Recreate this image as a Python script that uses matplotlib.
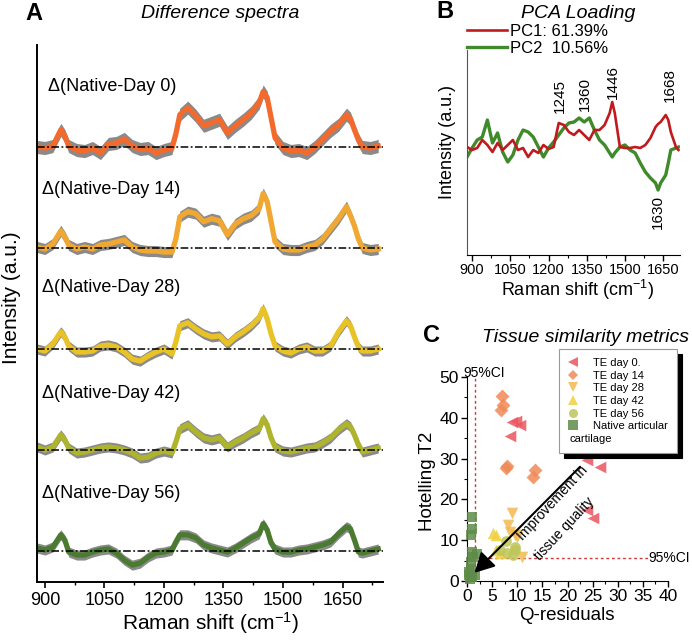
import matplotlib
matplotlib.use('Agg')
import matplotlib.pyplot as plt
from matplotlib.lines import Line2D
from matplotlib.ticker import MultipleLocator

plt.rcParams['font.family'] = ['Liberation Sans', 'DejaVu Sans']
plt.rcParams['mathtext.fontset'] = 'custom'
plt.rcParams['mathtext.rm'] = 'Liberation Sans'
plt.rcParams['mathtext.it'] = 'Liberation Sans:italic'

# ---------------- Panel A: difference spectra ----------------
wavenumber = [880, 900, 920, 940, 950, 960, 980, 1000, 1020, 1040, 1060, 1080, 1100,
              1120, 1140, 1160, 1180, 1200, 1220, 1230, 1240, 1260, 1280, 1300, 1320,
              1340, 1360, 1380, 1400, 1420, 1440, 1450, 1460, 1470, 1480, 1500, 1520,
              1540, 1560, 1580, 1600, 1620, 1640, 1660, 1670, 1680, 1690, 1700, 1720, 1740]
diff_day0 = [0, -0.01, 0.01, 0.17, 0.11, 0.01, -0.03, -0.04, -0.01, -0.06, 0.03, 0.04, 0.08,
             0.01, -0.02, -0.01, -0.06, -0.03, -0.01, 0.13, 0.32, 0.39, 0.31, 0.21, 0.24,
             0.27, 0.14, 0.21, 0.27, 0.34, 0.44, 0.55, 0.49, 0.29, 0.09, -0.01, -0.04,
             -0.03, -0.06, 0, 0.08, 0.16, 0.22, 0.32, 0.28, 0.17, 0.07, 0, -0.01, 0.01]
diff_day14 = [0.01, -0.01, 0.04, 0.17, 0.11, 0.03, -0.01, 0.01, -0.01, 0.03, 0.04, 0.06, 0.08,
              0.01, -0.02, -0.03, -0.03, -0.04, -0.04, 0.09, 0.31, 0.36, 0.34, 0.26, 0.29,
              0.27, 0.13, 0.24, 0.29, 0.32, 0.39, 0.54, 0.46, 0.26, 0.06, -0.01, -0.02,
              -0.02, 0.01, 0.03, 0.09, 0.19, 0.29, 0.41, 0.32, 0.22, 0.09, 0, -0.02, -0.01]
diff_day28 = [0, -0.02, 0.05, 0.17, 0.12, 0.03, -0.03, -0.03, -0.02, 0.03, 0.04, 0.02, -0.03,
              -0.10, -0.12, -0.07, -0.03, 0, -0.05, 0.07, 0.23, 0.26, 0.20, 0.15, 0.12,
              0.13, 0.05, 0.12, 0.17, 0.23, 0.31, 0.40, 0.30, 0.15, 0.03, -0.02, -0.04,
              0, 0.02, -0.02, -0.02, 0.03, 0.17, 0.28, 0.23, 0.12, 0.02, -0.02, -0.02, 0]
diff_day42 = [0.03, 0, 0.03, 0.15, 0.10, 0.02, -0.03, -0.02, 0, 0.02, 0.03, 0.02, 0,
              -0.03, -0.08, -0.07, -0.03, -0.01, -0.03, 0.08, 0.21, 0.25, 0.18, 0.12, 0.10,
              0.12, 0.03, 0.08, 0.12, 0.17, 0.21, 0.31, 0.25, 0.12, 0.03, -0.01, -0.02,
              0, 0.02, 0.03, 0.07, 0.12, 0.20, 0.26, 0.23, 0.15, 0.05, -0.02, 0, 0.02]
diff_day56 = [0.03, 0.01, 0.04, 0.16, 0.11, -0.01, -0.04, -0.04, -0.01, 0.01, 0.02, -0.02, -0.09,
              -0.14, -0.12, -0.06, -0.02, -0.01, 0.01, 0.09, 0.16, 0.16, 0.13, 0.06, 0.03,
              0.01, -0.01, 0.03, 0.08, 0.13, 0.17, 0.27, 0.21, 0.08, 0.02, -0.01, -0.01,
              0.01, 0.02, 0.04, 0.06, 0.09, 0.17, 0.24, 0.22, 0.11, -0.01, -0.02, 0, 0.02]
diff_labels = ['\u0394(Native-Day 0)', '\u0394(Native-Day 14)', '\u0394(Native-Day 28)',
               '\u0394(Native-Day 42)', '\u0394(Native-Day 56)']
diff_noise = [0.065, 0.055, 0.05, 0.05, 0.05]   # half-width of grey raw-spectrum band
diff_offsets = [4, 3, 2, 1, 0]

# ---------------- Panel B: PCA loadings ----------------
pca_wavenumber = [880, 900, 920, 940, 960, 980, 1000, 1020, 1040, 1060, 1080, 1100, 1120,
                  1140, 1160, 1180, 1200, 1220, 1240, 1260, 1280, 1300, 1320, 1340, 1360,
                  1380, 1400, 1420, 1440, 1450, 1460, 1480, 1500, 1520, 1540, 1560, 1580,
                  1600, 1620, 1630, 1640, 1660, 1670, 1680, 1700, 1710]
pc1_loading = [0.01, -0.02, 0, 0.08, 0.03, -0.04, 0.05, -0.02, 0.03, 0.08, -0.02, 0, -0.09,
               -0.02, -0.05, 0.03, -0.01, 0.01, 0.25, 0.23, 0.16, 0.13, 0.18, 0.13, 0.08,
               0.18, 0.18, 0.23, 0.35, 0.46, 0.35, 0.01, 0, 0, 0.01, 0, 0.03,
               0.10, 0.21, 0.24, 0.26, 0.33, 0.28, 0.16, 0.01, -0.02]
pc2_loading = [-0.09, 0, 0.08, 0.11, 0.28, 0.05, 0.15, -0.04, -0.14, -0.07, 0.08, 0.18, 0.16,
               0.11, 0.01, -0.09, 0, 0.06, 0.13, 0.20, 0.25, 0.26, 0.30, 0.26, 0.30,
               0.18, 0.08, 0.03, -0.05, -0.09, -0.05, 0.01, 0.03, -0.02, -0.05, -0.15, -0.24,
               -0.30, -0.35, -0.42, -0.35, -0.27, -0.15, -0.02, 0, 0.01]
pc_labels = ['PC1: 61.39%', 'PC2  10.56%']
peak_labels = ['1245', '1360', '1446', '1668', '1630']
peak_x = [1245, 1343, 1453, 1677, 1630]
peak_y = [0.52, 0.54, 0.66, 0.63, -0.64]

# ---------------- Panel C: tissue similarity ----------------
q_day0 = [8.9, 10.5, 9.7, 8.6, 23.8, 26.5, 23.8, 25.0]
t_day0 = [39.0, 38.2, 39.2, 35.5, 29.7, 28.0, 17.4, 15.4]
q_day14 = [6.9, 7.2, 6.8, 7.9, 7.8, 13.5, 13.2]
t_day14 = [45.3, 43.1, 41.9, 28.2, 27.6, 27.2, 25.4]
q_day28 = [8.9, 8.2, 8.6, 9.6, 11.0, 9.9]
t_day28 = [16.6, 13.7, 12.1, 11.3, 6.0, 10.9]
q_day42 = [5.2, 5.8, 5.8, 6.6]
t_day42 = [11.7, 11.3, 7.6, 6.8]
q_day56 = [7.8, 9.6, 9.5, 7.9, 6.5, 9.2]
t_day56 = [9.9, 8.4, 7.6, 6.8, 7.6, 6.4]
q_native = [0.9, 0.9, 0.7, 0.9, 1.9, 0.7, 0.7, 0.3, 0.9, 1.5, 0.5, 1.2, 0.4]
t_native = [15.6, 12.8, 11.2, 7.0, 6.6, 4.6, 3.0, 1.4, 0.9, 1.5, 0.5, 5.8, 2.2]
group_labels = ['TE day 0.', 'TE day 14', 'TE day 28', 'TE day 42', 'TE day 56',
                'Native articular', 'cartilage']
q_limit = 1.5
t_limit = 5.6

# ---------------- figure ----------------
W, H = 692, 642
fig = plt.figure(figsize=(W / 100, H / 100), dpi=100)


def fx(px):
    return px / W


def fy(py):
    return 1 - py / H


spec_colors = ['#F46A2C', '#F0A832', '#E8C226', '#AEB52C', '#4A7B30']
grey = '#8A8A8A'

# Panel A
axA = fig.add_axes([fx(37), fy(582), fx(383) - fx(37), fy(45) - fy(582)])
for vals, lab, off, col, nz in zip([diff_day0, diff_day14, diff_day28, diff_day42, diff_day56],
                                   diff_labels, diff_offsets, spec_colors, diff_noise):
    shifted = [off + v for v in vals]
    axA.fill_between(wavenumber, [s - nz for s in shifted], [s + nz for s in shifted],
                     color=grey, lw=0, zorder=1)
    axA.plot(wavenumber, shifted, color=col, lw=3.8, zorder=2, solid_joinstyle='round')
    axA.axhline(off, color='black', lw=1.1, ls=(0, (5, 1.6, 1.2, 1.6)), zorder=3)
label_x = [908, 893, 893, 893, 893]
label_dy = [0.60, 0.58, 0.61, 0.56, 0.57]
for lab, off, lx, dy in zip(diff_labels, diff_offsets, label_x, label_dy):
    axA.text(lx, off + dy, lab, fontsize=13, ha='left', va='center')
axA.set_xlim(880, 1752)
axA.set_ylim(-0.307, 5.01)
axA.spines['top'].set_visible(False)
axA.spines['right'].set_visible(False)
axA.spines['left'].set_linewidth(1.4)
axA.spines['bottom'].set_linewidth(1.4)
axA.set_yticks([])
axA.xaxis.set_minor_locator(MultipleLocator(75))
axA.set_xticks([900, 1050, 1200, 1350, 1500, 1650])
axA.tick_params(axis='x', which='major', length=4.5, width=1.2, labelsize=13, pad=3)
axA.tick_params(axis='x', which='minor', length=2.5, width=1.0)
axA.set_xlabel('Raman shift (cm$^{-1}$)', fontsize=15)
axA.set_ylabel('Intensity (a.u.)', fontsize=15)
axA.xaxis.set_label_coords(0.5, (582 - 623) / 537)
axA.xaxis.label.set_va('center')
axA.yaxis.set_label_coords((12 - 37) / 346, (582 - 298) / 537)
axA.yaxis.label.set_va('center')

# Panel B
axB = fig.add_axes([fx(467), fy(255), fx(680) - fx(467), fy(50) - fy(255)])
l1, = axB.plot(pca_wavenumber, pc1_loading, color='#C01A1E', lw=1.9, zorder=3)
l2, = axB.plot(pca_wavenumber, pc2_loading, color='#3F8A2A', lw=2.4, zorder=2)
for lab, px, py in zip(peak_labels, peak_x, peak_y):
    axB.text(px, py, lab, rotation=90, fontsize=11, ha='center', va='center')
axB.set_xlim(880, 1716)
axB.set_ylim(-1.07, 0.98)
axB.spines['top'].set_visible(False)
axB.spines['right'].set_visible(False)
axB.spines['left'].set_color('#555555')
axB.set_yticks([])
axB.set_xticks([900, 1050, 1200, 1350, 1500, 1650])
axB.xaxis.set_minor_locator(MultipleLocator(75))
axB.tick_params(axis='x', which='major', length=4, width=1.0, labelsize=10.5, pad=2)
axB.tick_params(axis='x', which='minor', length=2.5, width=0.8)
axB.set_xlabel('Raman shift (cm$^{-1}$)', fontsize=13)
axB.set_ylabel('Intensity (a.u.)', fontsize=13)
axB.xaxis.set_label_coords((577 - 467) / 213, (255 - 290) / 205)
axB.xaxis.label.set_va('center')
axB.yaxis.set_label_coords((447 - 467) / 213, (255 - 142) / 205)
axB.yaxis.label.set_va('center')
axB.legend([l1, l2], pc_labels, loc='upper left', bbox_to_anchor=(fx(467), fy(24)),
           bbox_transform=fig.transFigure, frameon=False, fontsize=12, handlelength=2.4,
           handletextpad=0.2, labelspacing=0.12, borderpad=0, borderaxespad=0)

# Panel C
axC = fig.add_axes([fx(467), fy(581), fx(668) - fx(467), fy(377) - fy(581)])
ci_col = '#D03A3A'
axC.plot([q_limit, q_limit], [0, 50], color=ci_col, lw=1.0, ls=(0, (2, 2)), zorder=1)
axC.plot([0, 36], [t_limit, t_limit], color=ci_col, lw=1.0, ls=(0, (2, 2)), zorder=1)
axC.text(36.0, t_limit, '95%CI', fontsize=10, ha='left', va='center')
axC.text(3.4, 51.0, '95%CI', fontsize=10, ha='center', va='center')
groups = [(q_day0, t_day0, '<', '#EC5560', 70),
          (q_day14, t_day14, 'D', '#F08A58', 50),
          (q_day28, t_day28, 'v', '#F2BA52', 70),
          (q_day42, t_day42, '^', '#F0D040', 70),
          (q_day56, t_day56, 'o', '#BEC658', 60),
          (q_native, t_native, 's', '#5E8C48', 42)]
handles = []
for qv, tv, mk, col, sz in groups:
    axC.scatter(qv, tv, marker=mk, s=sz, color=col, alpha=0.85, lw=0, zorder=3, clip_on=False)
    handles.append(Line2D([], [], ls='none', marker=mk, color=col, alpha=0.85,
                          markersize=6.5 if mk != 'D' else 5.5, markeredgewidth=0))
handles.append(Line2D([], [], ls='none'))
axC.annotate('', xy=(1.5, 2.0), xytext=(22.5, 28.0),
             arrowprops=dict(arrowstyle='-|>,head_length=0.6,head_width=0.32',
                             color='black', lw=1.5, mutation_scale=20, shrinkA=0, shrinkB=0),
             zorder=4)
axC.text(17.0, 19.0, 'Improvement in', rotation=47, fontsize=10, ha='center', va='center')
axC.text(19.4, 12.7, 'tissue quality', rotation=47, fontsize=10, ha='center', va='center')
axC.set_xlim(0, 40)
axC.set_ylim(0, 50)
axC.spines['top'].set_visible(False)
axC.spines['right'].set_visible(False)
axC.xaxis.set_major_locator(MultipleLocator(5))
axC.xaxis.set_minor_locator(MultipleLocator(2.5))
axC.yaxis.set_major_locator(MultipleLocator(10))
axC.yaxis.set_minor_locator(MultipleLocator(5))
axC.tick_params(which='major', length=4, width=1.0, labelsize=12.5, pad=2)
axC.tick_params(which='minor', length=2.5, width=0.8)
axC.set_xlabel('Q-residuals', fontsize=13.5)
axC.set_ylabel('Hotelling T2', fontsize=13.5)
axC.xaxis.set_label_coords((567 - 467) / 201, (581 - 615) / 204)
axC.xaxis.label.set_va('center')
axC.yaxis.set_label_coords((427 - 467) / 201, (581 - 481) / 204)
axC.yaxis.label.set_va('center')
leg = axC.legend(handles, group_labels, loc='upper left',
                 bbox_to_anchor=(fx(559), fy(349)), bbox_transform=fig.transFigure,
                 fontsize=8, frameon=True, fancybox=False, handlelength=1.0,
                 handletextpad=1.3, labelspacing=0.24, borderpad=0.8, borderaxespad=0,
                 shadow={'ox': 3.5, 'oy': -3.5, 'facecolor': 'black', 'edgecolor': 'black',
                         'alpha': 1})
leg.get_frame().set_edgecolor('#999999')
leg.get_frame().set_linewidth(0.8)
leg.set_zorder(5)
# the wrapped second line of the last label starts under the marker column
leg.get_texts()[-1].set_alpha(0)
fig.canvas.draw()
last_bb = leg.get_texts()[-1].get_window_extent()
inv = fig.transFigure.inverted()
cx, cy = inv.transform(((last_bb.x0 + last_bb.x1) / 2, (last_bb.y0 + last_bb.y1) / 2))
fig.text(fx(570), cy, group_labels[-1], fontsize=8, ha='left', va='center', zorder=10)

# Panel letters and titles
fig.text(fx(34), fy(14), 'A', fontsize=17, fontweight='bold', ha='center', va='center')
fig.text(fx(220), fy(14), 'Difference spectra', fontsize=14, style='italic',
         ha='center', va='center')
fig.text(fx(445), fy(11), 'B', fontsize=17, fontweight='bold', ha='center', va='center')
fig.text(fx(578), fy(13), 'PCA Loading', fontsize=14, style='italic',
         ha='center', va='center')
fig.text(fx(432), fy(336), 'C', fontsize=17, fontweight='bold', ha='center', va='center')
fig.text(fx(586), fy(337), 'Tissue similarity metrics', fontsize=14, style='italic',
         ha='center', va='center')

fig.savefig('out.png', dpi=100)
